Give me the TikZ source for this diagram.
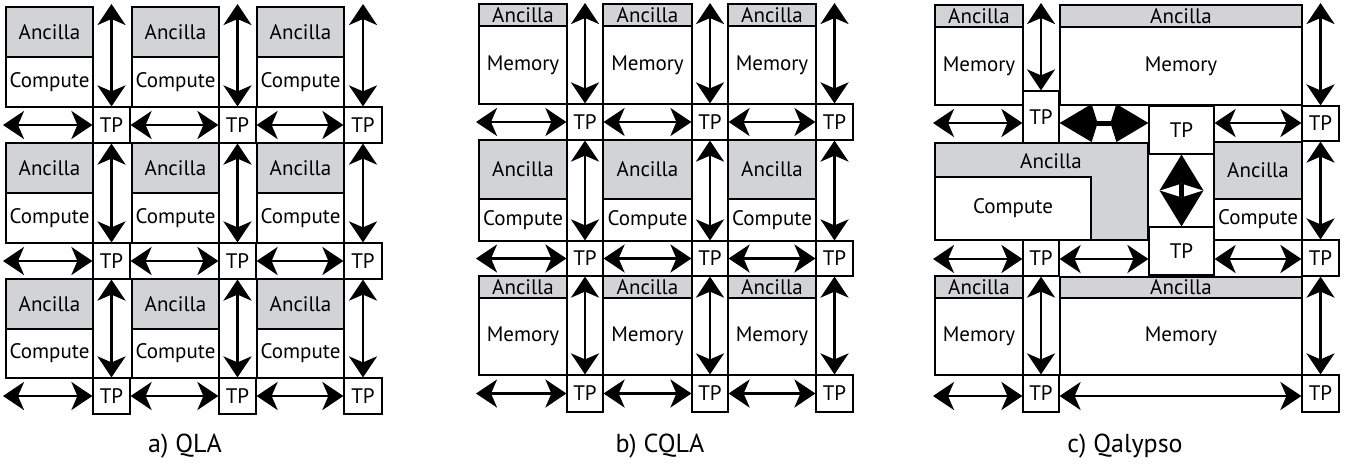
\documentclass[tikz,border=0pt]{standalone}
\usepackage{fontspec}
\setmainfont{PT Sans}
\usetikzlibrary{arrows.meta,fit}
\definecolor{ancgray}{RGB}{209,211,212}
\tikzset{
  lbltxt/.style={inner sep=0pt, font=\fontsize{21}{25}\selectfont},
  cell/.style={draw=black, line width=1.2pt, inner sep=0pt},
  txt/.style={label={[lbltxt]center:#1}},
  anc/.style={cell, fill=ancgray},
  plain/.style={cell, fill=white},
  tpbox/.style={cell, fill=white, txt=TP},
  arr/.style={line width=2.8pt,
    {Stealth[length=21pt,width=28pt,inset=6pt]}-{Stealth[length=21pt,width=28pt,inset=6pt]}},
  bigharr/.style={line width=5pt,
    {Kite[length=38pt,width=38pt,inset=6pt,line width=0pt 0]}-{Kite[length=38pt,width=38pt,inset=6pt,line width=0pt 0]}},
  bigvarr/.style={line width=5pt,
    {Stealth[length=36pt,width=44pt,inset=7pt,line width=0pt 0]}-{Stealth[length=36pt,width=44pt,inset=7pt,line width=0pt 0]}},
  caption/.style={inner sep=0pt, font=\fontsize{26}{30}\selectfont},
}
\begin{document}
\begin{tikzpicture}[x=1pt, y=-1pt]
\path[use as bounding box] (0,0) rectangle (1348,464);

% ---------------- a) QLA ----------------
\foreach \i/\xl/\xr/\xt in {1/6/93/130, 2/132/219/256, 3/257/344/382}{
  \foreach \j/\ya/\ym/\yc/\yt in {1/7/57/107/143, 2/143/193/243/279, 3/279/329/378/414}{
    \node[anc,   fit={(\xl,\ya) (\xr,\ym)}, txt=Ancilla] (a-anc-\i-\j) {};
    \node[plain, fit={(\xl,\ym) (\xr,\yc)}, txt=Compute] (a-cmp-\i-\j) {};
    \node[tpbox, fit={(\xr,\yc) (\xt,\yt)}] (a-tp-\i-\j) {};
  }
}
\coordinate (a-top) at (0,4);
\coordinate (a-left) at (3,0);
\foreach \i in {1,2,3}{
  \draw[arr] (a-tp-\i-1.north |- a-top) -- (a-tp-\i-1.north);
  \draw[arr] (a-tp-\i-1.south) -- (a-tp-\i-2.north);
  \draw[arr] (a-tp-\i-2.south) -- (a-tp-\i-3.north);
  \draw[arr] (a-tp-1-\i.west -| a-left) -- (a-tp-1-\i.west);
  \draw[arr] (a-tp-1-\i.east) -- (a-tp-2-\i.west);
  \draw[arr] (a-tp-2-\i.east) -- (a-tp-3-\i.west);
}
\node[caption] (a-cap) at (185,446) {a) QLA};

% ---------------- b) CQLA ----------------
\foreach \i/\xl/\xr/\xt in {1/479/567/603, 2/603/692/728, 3/728/816/853}{
  \foreach \j/\ya/\ym/\yc/\yt/\lab in {1/4/26/104/140/Memory, 2/140/199/241/276/Compute, 3/276/298/375/412/Memory}{
    \node[anc,   fit={(\xl,\ya) (\xr,\ym)}, txt=Ancilla] (b-anc-\i-\j) {};
    \node[plain, fit={(\xl,\ym) (\xr,\yc)}, txt=\lab] (b-blk-\i-\j) {};
    \node[tpbox, fit={(\xr,\yc) (\xt,\yt)}] (b-tp-\i-\j) {};
  }
}
\coordinate (b-top) at (0,3);
\coordinate (b-left) at (476,0);
\foreach \i in {1,2,3}{
  \draw[arr] (b-tp-\i-1.north |- b-top) -- (b-tp-\i-1.north);
  \draw[arr] (b-tp-\i-1.south) -- (b-tp-\i-2.north);
  \draw[arr] (b-tp-\i-2.south) -- (b-tp-\i-3.north);
  \draw[arr] (b-tp-1-\i.west -| b-left) -- (b-tp-1-\i.west);
  \draw[arr] (b-tp-1-\i.east) -- (b-tp-2-\i.west);
  \draw[arr] (b-tp-2-\i.east) -- (b-tp-3-\i.west);
}
\node[caption] (b-cap) at (660,446) {b) CQLA};

% ---------------- c) Qalypso ----------------
% top row
\node[anc,   fit={(935,5) (1023,27)}, txt=Ancilla]     (c-anc1)  {};
\node[plain, fit={(935,27) (1023,105)}, txt=Memory]    (c-mem1)  {};
\node[anc,   fit={(1060,5) (1302,27)}, txt=Ancilla]    (c-ancB1) {};
\node[plain, fit={(1060,27) (1302,105)}, txt=Memory]   (c-memB1) {};
% middle row: L-shaped ancilla around a large compute block
\node[anc,   fit={(935,143) (1148,240)}]                (c-ancL) {};
\node[plain, fit={(935,177) (1091,240)}, txt=Compute]  (c-cmpL) {};
\node[lbltxt] (c-ancL-text) at (1051,161) {Ancilla};
\node[anc,   fit={(1214,142) (1302,199)}, txt=Ancilla] (c-ancR) {};
\node[plain, fit={(1214,199) (1302,240)}, txt=Compute] (c-cmpR) {};
% bottom row
\node[anc,   fit={(935,276) (1023,298)}, txt=Ancilla]  (c-anc3)  {};
\node[plain, fit={(935,298) (1023,375)}, txt=Memory]   (c-mem3)  {};
\node[anc,   fit={(1060,277) (1302,298)}, txt=Ancilla] (c-ancB3) {};
\node[plain, fit={(1060,298) (1302,375)}, txt=Memory]  (c-memB3) {};
% teleportation nodes
\node[tpbox, fit={(1023,91) (1059,143)}]   (c-tp1)  {};
\node[tpbox, fit={(1149,106) (1214,154)}]  (c-tpM1) {};
\node[tpbox, fit={(1302,106) (1339,141)}]  (c-tpR1) {};
\node[tpbox, fit={(1023,240) (1059,276)}]  (c-tpL2) {};
\node[tpbox, fit={(1149,227) (1214,275)}]  (c-tpM2) {};
\node[tpbox, fit={(1302,240) (1339,276)}]  (c-tpR2) {};
\node[tpbox, fit={(1023,375) (1059,412)}]  (c-tpL3) {};
\node[tpbox, fit={(1302,375) (1339,412)}]  (c-tpR3) {};
% channels
\coordinate (c-top) at (0,3);
\coordinate (c-h1) at (933,123);
\coordinate (c-h2) at (933,259);
\coordinate (c-h3) at (933,396);
\draw[arr] (c-tp1.north |- c-top) -- (c-tp1.north);
\draw[arr] (c-tpR1.north |- c-top) -- (c-tpR1.north);
\draw[arr] (c-tpR1.south) -- (c-tpR2.north);
\draw[arr] (c-tpR2.south) -- (c-tpR3.north);
\draw[arr] (c-tpL2.south) -- (c-tpL3.north);
\draw[bigvarr] (c-tpM1.south) -- (c-tpM2.north);
\draw[arr] (c-h1) -- (c-h1 -| c-tp1.west);
\draw[bigharr] (c-h1 -| c-tp1.east) -- (c-h1 -| c-tpM1.west);
\draw[arr] (c-h1 -| c-tpM1.east) -- (c-h1 -| c-tpR1.west);
\draw[arr] (c-h2) -- (c-h2 -| c-tpL2.west);
\draw[arr] (c-h2 -| c-tpL2.east) -- (c-h2 -| c-tpM2.west);
\draw[arr] (c-h2 -| c-tpM2.east) -- (c-h2 -| c-tpR2.west);
\draw[arr] (c-h3) -- (c-h3 -| c-tpL3.west);
\draw[arr] (c-h3 -| c-tpL3.east) -- (c-h3 -| c-tpR3.west);
\node[caption] (c-cap) at (1125,446) {c) Qalypso};
\end{tikzpicture}
\end{document}
